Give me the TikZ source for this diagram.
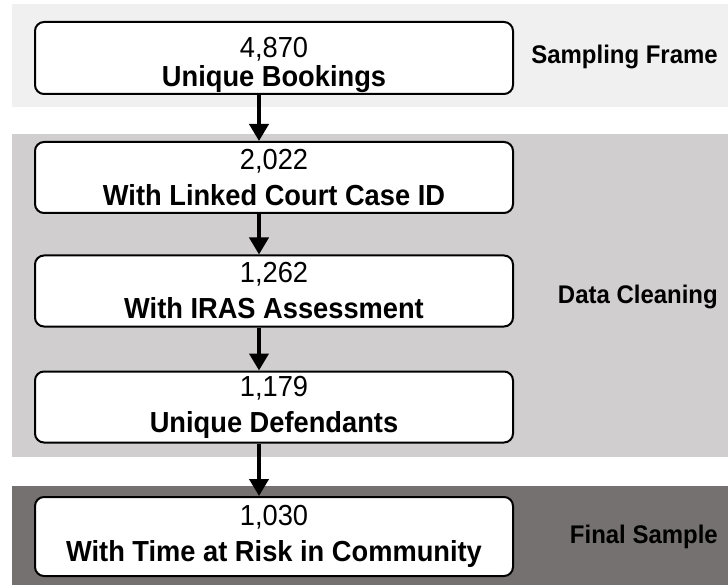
\documentclass[tikz,border=0pt]{standalone}
\usepackage{fontspec}
\setmainfont{Liberation Sans}[FakeStretch=0.94]
\usetikzlibrary{arrows.meta}

\definecolor{bandlight}{HTML}{F0F0F0}
\definecolor{bandmid}{HTML}{D0CECE}
\definecolor{banddark}{HTML}{767171}

\tikzset{
  stagebox/.style={draw=black, line width=2pt, fill=white, rounded corners=9pt,
    minimum width=478pt, align=center, inner sep=0pt,
    font=\fontsize{29}{36}\selectfont},
  stagelabel/.style={anchor=east, inner sep=0pt, font=\fontsize{25.5}{25.5}\selectfont\bfseries},
  flow/.style={line width=4pt, -{Triangle[width=19pt,length=17pt]}},
}

\begin{document}
\begin{tikzpicture}[x=1pt, y=-1pt]
  \useasboundingbox (0,0) rectangle (728,585);

  % phase bands
  \fill[bandlight] (12,4) rectangle (728,107);
  \fill[bandmid]   (12,134) rectangle (728,457);
  \fill[banddark]  (12,486) rectangle (728,585);

  % stages
  \node[stagebox, minimum height=72pt] (s1) at (274,58)
    {\rule{0pt}{34pt}4,870\\[-7pt]\textbf{Unique Bookings}};
  \node[stagebox, minimum height=71pt] (s2) at (274,177.5) {2,022\\\textbf{With Linked Court Case ID}};
  \node[stagebox, minimum height=71pt] (s3) at (274,291)   {1,262\\\textbf{With IRAS Assessment}};
  \node[stagebox, minimum height=71pt] (s4) at (274,407)   {1,179\\\textbf{Unique Defendants}};
  \node[stagebox, minimum height=79pt] (s5) at (274,536.5) {1,030\\\textbf{With Time at Risk in Community}};

  % phase labels
  \node[stagelabel] (l1) at (718,57)  {Sampling Frame};
  \node[stagelabel] (l2) at (718,297) {Data Cleaning};
  \node[stagelabel] (l3) at (718,537) {Final Sample};

  % flow arrows
  \coordinate (ax) at (259,0);
  \draw[flow] (s1.south -| ax) -- (s2.north -| ax);
  \draw[flow] (s2.south -| ax) -- (s3.north -| ax);
  \draw[flow] (s3.south -| ax) -- (s4.north -| ax);
  \draw[flow] (s4.south -| ax) -- (s5.north -| ax);
\end{tikzpicture}
\end{document}
